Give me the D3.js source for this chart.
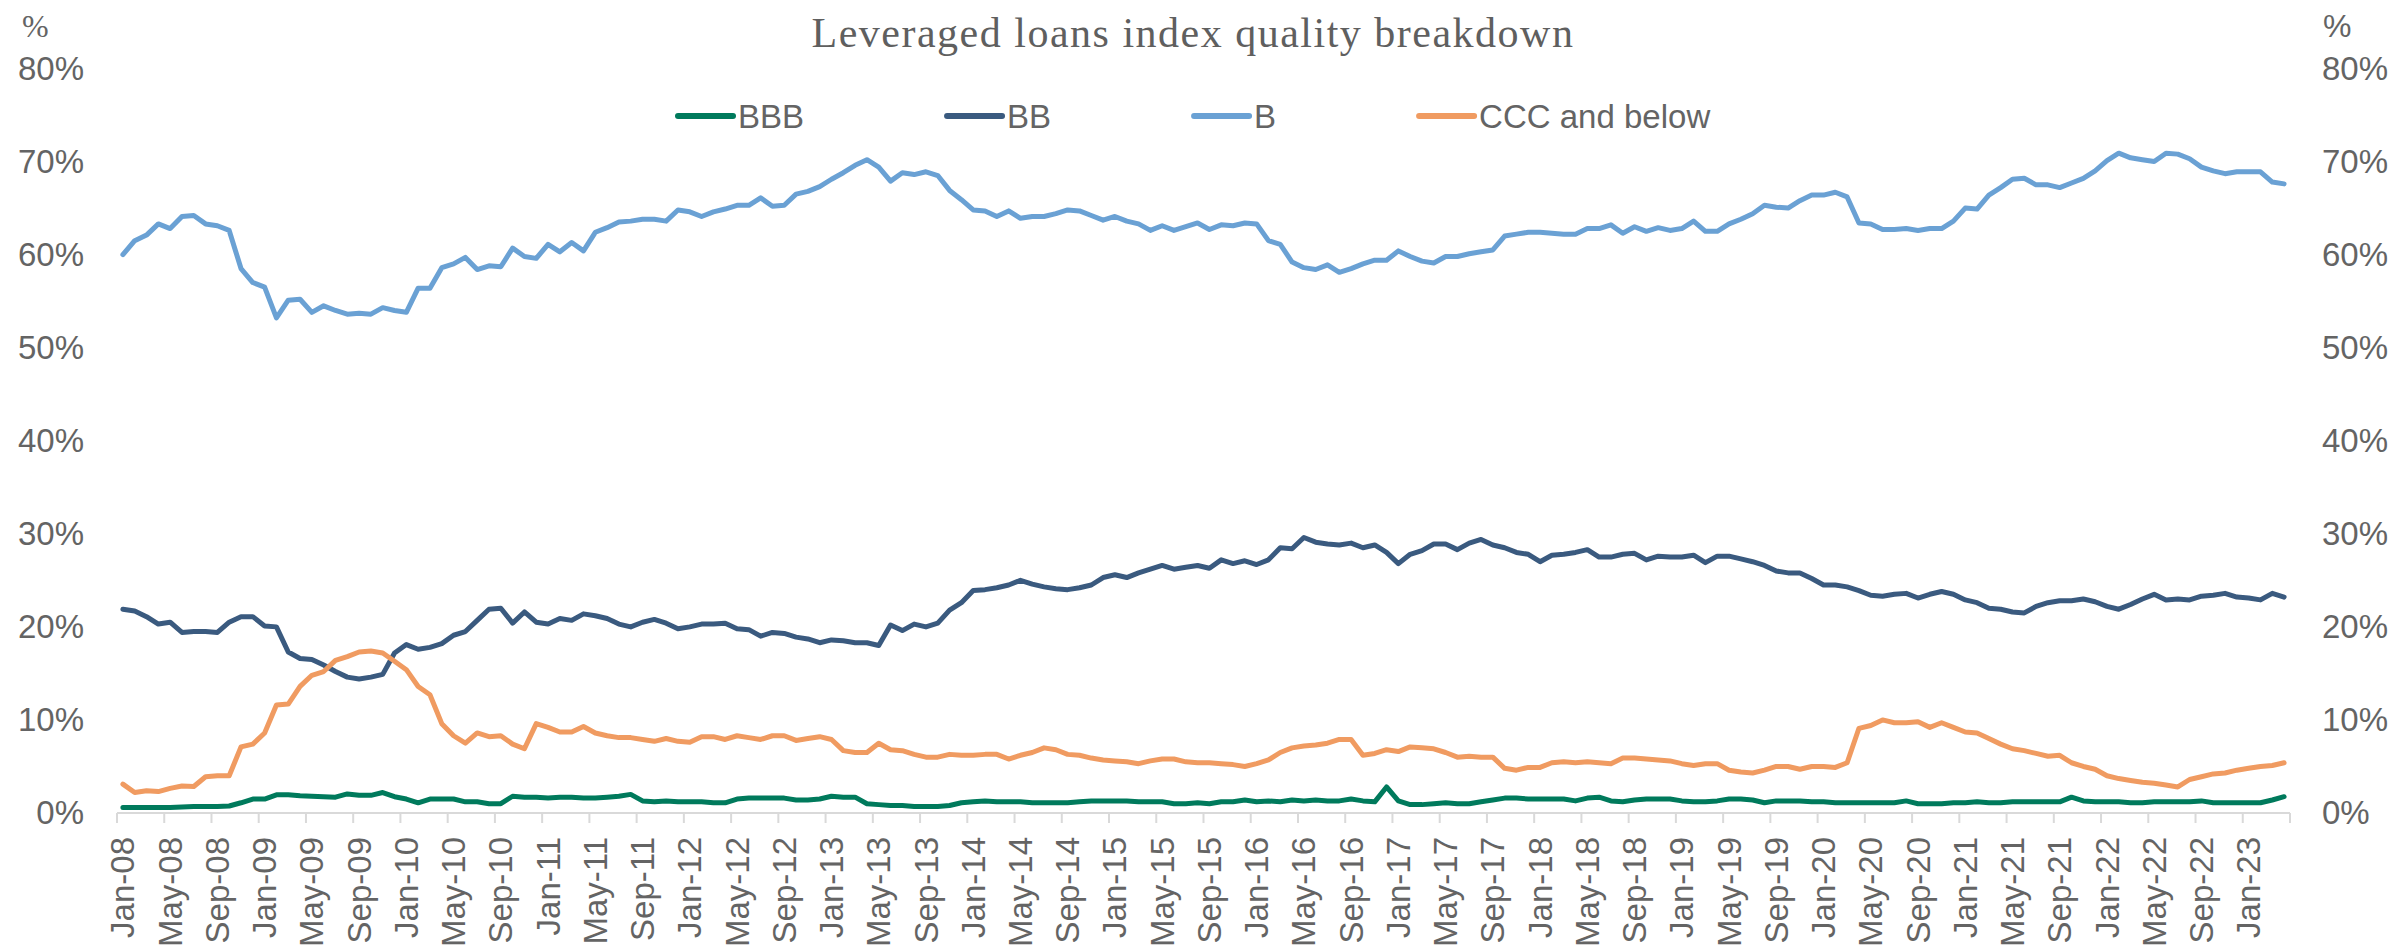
<!DOCTYPE html>
<html>
<head>
<meta charset="utf-8">
<script src="https://cdn.jsdelivr.net/npm/d3@7"></script>
<style>
  body { margin: 0; background: #fff; }
  svg { display: block; }
</style>
</head>
<body>
<svg id="chart" width="2397" height="949"></svg>
<script>
// Monthly observations, Jan-08 to Apr-23 (share of index, %)
const firstMonth = new Date(2008, 0, 1);
const lastMonth = new Date(2023, 3, 1);

const seriesNames = ["BBB", "BB", "B", "CCC and below"];
const seriesColors = ["#007a5c", "#3a5a7f", "#6aa1d4", "#f09b61"];

const bbbValues = [
  0.6,0.6,0.6,0.6,0.6,0.65,0.7,0.7,0.7,0.75,
  1.1,1.5,1.5,1.95,1.95,1.85,1.8,1.75,1.7,2.05,
  1.9,1.9,2.2,1.75,1.5,1.1,1.5,1.5,1.5,1.2,
  1.2,1.0,1.0,1.8,1.7,1.7,1.6,1.7,1.7,1.6,
  1.6,1.7,1.8,2.0,1.3,1.2,1.3,1.2,1.2,1.2,
  1.1,1.1,1.5,1.6,1.6,1.6,1.6,1.4,1.4,1.5,
  1.8,1.7,1.7,1.0,0.9,0.8,0.8,0.7,0.7,0.7,
  0.8,1.1,1.2,1.3,1.2,1.2,1.2,1.1,1.1,1.1,
  1.1,1.2,1.3,1.3,1.3,1.3,1.2,1.2,1.2,1.0,
  1.0,1.1,1.0,1.2,1.2,1.4,1.2,1.3,1.2,1.4,
  1.3,1.4,1.3,1.3,1.5,1.3,1.2,2.8,1.3,0.9,
  0.9,1.0,1.1,1.0,1.0,1.2,1.4,1.6,1.6,1.5,
  1.5,1.5,1.5,1.3,1.6,1.7,1.3,1.2,1.4,1.5,
  1.5,1.5,1.3,1.2,1.2,1.3,1.5,1.5,1.4,1.1,
  1.3,1.3,1.3,1.2,1.2,1.1,1.1,1.1,1.1,1.1,
  1.1,1.3,1.0,1.0,1.0,1.1,1.1,1.2,1.1,1.1,
  1.2,1.2,1.2,1.2,1.2,1.7,1.3,1.2,1.2,1.2,
  1.1,1.1,1.2,1.2,1.2,1.2,1.3,1.1,1.1,1.1,
  1.1,1.1,1.4,1.75
];

const bbValues = [
  21.9,21.7,21.1,20.3,20.5,19.4,19.5,19.5,19.4,20.5,
  21.1,21.1,20.1,20.0,17.3,16.6,16.5,15.9,15.2,14.6,
  14.4,14.6,14.9,17.2,18.1,17.6,17.8,18.2,19.1,19.5,
  20.7,21.9,22.0,20.4,21.6,20.5,20.3,20.9,20.7,21.4,
  21.2,20.9,20.3,20.0,20.5,20.8,20.4,19.8,20.0,20.3,
  20.3,20.4,19.8,19.7,19.0,19.4,19.3,18.9,18.7,18.3,
  18.6,18.5,18.3,18.3,18.0,20.2,19.6,20.3,20.0,20.4,
  21.8,22.6,23.9,24.0,24.2,24.5,25.0,24.6,24.3,24.1,
  24.0,24.2,24.5,25.3,25.6,25.3,25.8,26.2,26.6,26.2,
  26.4,26.6,26.3,27.2,26.8,27.1,26.7,27.2,28.5,28.4,
  29.6,29.1,28.9,28.8,29.0,28.5,28.8,28.0,26.8,27.8,
  28.2,28.9,28.9,28.3,29.0,29.4,28.8,28.5,28.0,27.8,
  27.0,27.7,27.8,28.0,28.3,27.5,27.5,27.8,27.9,27.2,
  27.6,27.5,27.5,27.7,26.9,27.6,27.6,27.3,27.0,26.6,
  26.0,25.8,25.8,25.2,24.5,24.5,24.3,23.9,23.4,23.3,
  23.5,23.6,23.1,23.5,23.8,23.5,22.9,22.6,22.0,21.9,
  21.6,21.5,22.2,22.6,22.8,22.8,23.0,22.7,22.2,21.9,
  22.4,23.0,23.5,22.9,23.0,22.9,23.3,23.4,23.6,23.2,
  23.1,22.9,23.6,23.2
];

const bValues = [
  60.0,61.5,62.1,63.3,62.8,64.1,64.2,63.3,63.1,62.6,
  58.5,57.0,56.5,53.2,55.1,55.2,53.8,54.5,54.0,53.6,
  53.7,53.6,54.3,54.0,53.8,56.4,56.4,58.6,59.0,59.7,
  58.4,58.8,58.7,60.7,59.8,59.6,61.1,60.3,61.3,60.4,
  62.4,62.9,63.5,63.6,63.8,63.8,63.6,64.8,64.6,64.1,
  64.6,64.9,65.3,65.3,66.1,65.2,65.3,66.5,66.8,67.3,
  68.1,68.8,69.6,70.2,69.4,67.9,68.8,68.6,68.9,68.5,
  66.9,65.9,64.8,64.7,64.1,64.7,63.9,64.1,64.1,64.4,
  64.8,64.7,64.2,63.7,64.1,63.6,63.3,62.6,63.1,62.6,
  63.0,63.4,62.7,63.2,63.1,63.4,63.3,61.5,61.1,59.2,
  58.6,58.4,58.9,58.1,58.5,59.0,59.4,59.4,60.4,59.8,
  59.3,59.1,59.8,59.8,60.1,60.3,60.5,62.0,62.2,62.4,
  62.4,62.3,62.2,62.2,62.8,62.8,63.2,62.3,63.0,62.5,
  62.9,62.6,62.8,63.6,62.5,62.5,63.3,63.8,64.4,65.3,
  65.1,65.0,65.8,66.4,66.4,66.7,66.2,63.4,63.3,62.7,
  62.7,62.8,62.6,62.8,62.8,63.6,65.0,64.9,66.4,67.2,
  68.1,68.2,67.5,67.5,67.2,67.7,68.2,69.0,70.1,70.9,
  70.4,70.2,70.0,70.9,70.8,70.3,69.4,69.0,68.7,68.9,
  68.9,68.9,67.8,67.6
];

const cccValues = [
  3.1,2.2,2.4,2.3,2.65,2.9,2.85,3.9,4.0,4.0,
  7.1,7.4,8.6,11.6,11.7,13.6,14.8,15.2,16.4,16.8,
  17.3,17.4,17.2,16.3,15.4,13.6,12.7,9.6,8.3,7.5,
  8.6,8.2,8.3,7.4,6.9,9.6,9.2,8.7,8.7,9.3,
  8.6,8.3,8.1,8.1,7.9,7.7,8.0,7.7,7.6,8.2,
  8.2,7.9,8.3,8.1,7.9,8.3,8.3,7.8,8.0,8.2,
  7.9,6.7,6.5,6.5,7.5,6.8,6.7,6.3,6.0,6.0,
  6.3,6.2,6.2,6.3,6.3,5.8,6.2,6.5,7.0,6.8,
  6.3,6.2,5.9,5.7,5.6,5.5,5.3,5.6,5.8,5.8,
  5.5,5.4,5.4,5.3,5.2,5.0,5.3,5.7,6.5,7.0,
  7.2,7.3,7.5,7.9,7.9,6.2,6.4,6.8,6.6,7.1,
  7.0,6.9,6.5,6.0,6.1,6.0,6.0,4.8,4.6,4.9,
  4.9,5.4,5.5,5.4,5.5,5.4,5.3,5.9,5.9,5.8,
  5.7,5.6,5.3,5.1,5.3,5.3,4.6,4.4,4.3,4.6,
  5.0,5.0,4.7,5.0,5.0,4.9,5.4,9.1,9.4,10.0,
  9.7,9.7,9.8,9.2,9.7,9.2,8.7,8.6,8.0,7.4,
  6.9,6.7,6.4,6.1,6.2,5.4,5.0,4.7,4.0,3.7,
  3.5,3.3,3.2,3.0,2.8,3.6,3.9,4.2,4.3,4.6,
  4.8,5.0,5.1,5.4
];

const yTicks = [0, 10, 20, 30, 40, 50, 60, 70, 80];

const tickLabels = [
  "Jan-08","May-08","Sep-08","Jan-09","May-09","Sep-09","Jan-10","May-10","Sep-10",
  "Jan-11","May-11","Sep-11","Jan-12","May-12","Sep-12","Jan-13","May-13","Sep-13",
  "Jan-14","May-14","Sep-14","Jan-15","May-15","Sep-15","Jan-16","May-16","Sep-16",
  "Jan-17","May-17","Sep-17","Jan-18","May-18","Sep-18","Jan-19","May-19","Sep-19",
  "Jan-20","May-20","Sep-20","Jan-21","May-21","Sep-21","Jan-22","May-22","Sep-22",
  "Jan-23"
];

const allSeries = [bbbValues, bbValues, bValues, cccValues];

// ---- layout ----
const SANS = "'Liberation Sans', Arial, sans-serif";
const SERIF = "'Liberation Serif', 'Times New Roman', serif";
const TEXT = "#646464";
const plot = { left: 117, right: 2290, top: 68.5, bottom: 813 };

const fmt = d3.timeFormat("%b-%y");
const months = d3.timeMonth.range(firstMonth, d3.timeMonth.offset(lastMonth, 1)).map(fmt);

const svg = d3.select("#chart");

const x = d3.scaleBand().domain(months).range([plot.left, plot.right]).padding(0);
const bw = x.bandwidth();
const y = d3.scaleLinear().domain([0, 80]).range([plot.bottom, plot.top]);

// Title
svg.append("text")
  .attr("x", 1193).attr("y", 47)
  .attr("text-anchor", "middle")
  .style("font-family", SERIF).style("font-size", "42px")
  .style("letter-spacing", "1.5px")
  .attr("fill", "#5f5f5f")
  .text("Leveraged loans index quality breakdown");

// Unit markers above both value axes
svg.append("text").attr("x", 22).attr("y", 37)
  .style("font-family", SERIF).style("font-size", "32px")
  .attr("fill", TEXT).text("%");
svg.append("text").attr("x", 2323).attr("y", 37)
  .style("font-family", SANS).style("font-size", "32px")
  .attr("fill", TEXT).text("%");

// Value axes (left and right)
function styleValueAxis(g) {
  g.select(".domain").remove();
  g.selectAll("text")
    .style("font-family", SANS).style("font-size", "33px")
    .attr("fill", TEXT);
}
svg.append("g").attr("transform", `translate(84,0)`)
  .call(d3.axisLeft(y).tickValues(yTicks).tickFormat(d => d + "%").tickSize(0).tickPadding(0))
  .call(styleValueAxis);
svg.append("g").attr("transform", `translate(2322,0)`)
  .call(d3.axisRight(y).tickValues(yTicks).tickFormat(d => d + "%").tickSize(0).tickPadding(0))
  .call(styleValueAxis);

// Category axis: baseline, tick marks on category boundaries, rotated labels
const axisG = svg.append("g");
axisG.append("line")
  .attr("x1", plot.left).attr("x2", plot.right)
  .attr("y1", y(0)).attr("y2", y(0))
  .attr("stroke", "#d9d9d9").attr("stroke-width", 2);

const tickedMonths = months.filter(m => tickLabels.includes(m));
const tickXs = tickedMonths.map(m => x(m)).concat([x(months[months.length - 1]) + bw]);
axisG.selectAll("line.tick").data(tickXs).join("line")
  .attr("class", "tick")
  .attr("x1", d => d).attr("x2", d => d)
  .attr("y1", y(0)).attr("y2", y(0) + 10)
  .attr("stroke", "#d9d9d9").attr("stroke-width", 2);

axisG.selectAll("text").data(tickedMonths).join("text")
  .attr("transform", d => `translate(${x(d) + bw / 2},837) rotate(-90)`)
  .attr("text-anchor", "end")
  .attr("dy", "0.35em")
  .style("font-family", SANS).style("font-size", "33px")
  .attr("fill", TEXT)
  .text(d => d);

// Series lines
const line = d3.line()
  .x((d, i) => x(months[i]) + bw / 2)
  .y(d => y(d));

svg.append("g").selectAll("path").data(allSeries).join("path")
  .attr("d", line)
  .attr("fill", "none")
  .attr("stroke", (d, i) => seriesColors[i])
  .attr("stroke-width", 5)
  .attr("stroke-linejoin", "round")
  .attr("stroke-linecap", "round");

// Legend
const legend = svg.append("g");
let lx = 678;
seriesNames.forEach((name, i) => {
  legend.append("line")
    .attr("x1", lx).attr("x2", lx + 55)
    .attr("y1", 116).attr("y2", 116)
    .attr("stroke", seriesColors[i]).attr("stroke-width", 6)
    .attr("stroke-linecap", "round");
  const t = legend.append("text")
    .attr("x", lx + 60).attr("y", 116).attr("dy", "0.35em")
    .style("font-family", SANS).style("font-size", "33px")
    .attr("fill", TEXT).text(name);
  lx += 60 + t.node().getComputedTextLength() + 143;
});
</script>
</body>
</html>
